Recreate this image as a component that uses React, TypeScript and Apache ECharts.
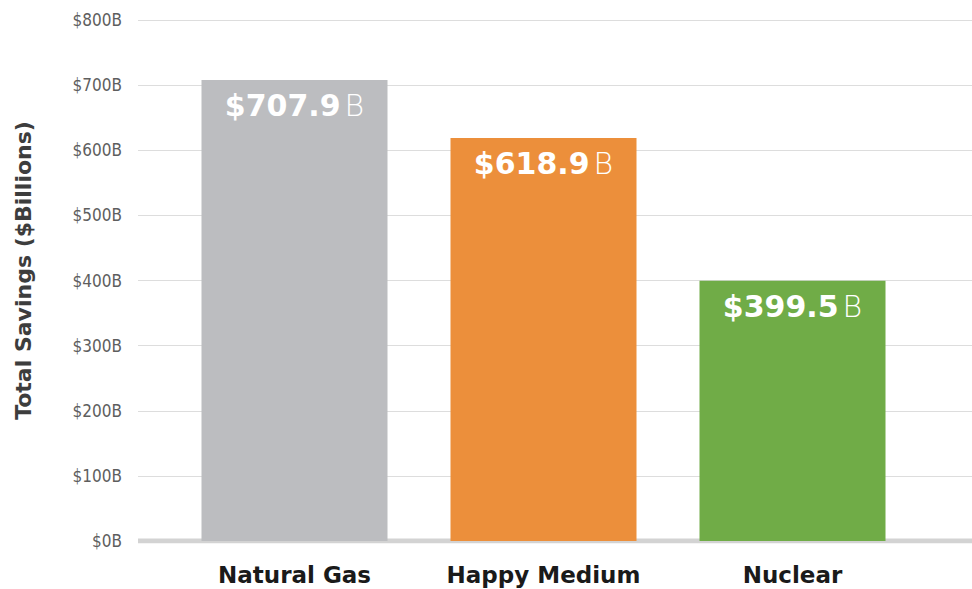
import React, { useEffect, useRef } from "react";
import * as echarts from "echarts";

const categories = ["Natural Gas", "Happy Medium", "Nuclear"];
const savings = [707.9, 618.9, 399.5];
const barColors = ["#bcbdc0", "#ec8f3b", "#70ac47"];
const yTicks = [0, 100, 200, 300, 400, 500, 600, 700, 800];

export default function App() {
  const ref = useRef<HTMLDivElement>(null);
  useEffect(() => {
    if (!ref.current) return;
    const chart = echarts.init(ref.current, undefined, { renderer: "svg" });
    const yMax = yTicks[yTicks.length - 1];
    const option: any = {
      animation: false,
      backgroundColor: "#ffffff",
      grid: [
        { left: 138, right: 0, top: 20, bottom: 48 },
        { left: 170, right: 55, top: 20, bottom: 48 },
      ],
      xAxis: [
        { type: "value", gridIndex: 0, show: false, min: 0, max: 1 },
        {
          type: "category",
          gridIndex: 1,
          data: categories,
          axisLine: { show: false },
          axisTick: { show: false },
          axisLabel: {
            interval: 0,
            margin: 22,
            color: "#1a1a1a",
            fontSize: 23,
            fontWeight: "bold",
            fontFamily: "'DejaVu Sans', sans-serif",
          },
        },
      ],
      yAxis: [
        {
          type: "value",
          gridIndex: 0,
          min: 0,
          max: yMax,
          interval: 100,
          name: "Total Savings ($Billions)",
          nameLocation: "middle",
          nameGap: 104,
          nameTextStyle: {
            color: "#3d3d3d",
            fontSize: 22,
            fontWeight: "bold",
            fontFamily: "'DejaVu Sans', sans-serif",
            padding: [0, 0, 0, 20],
          },
          axisLine: { show: false },
          axisTick: { show: false },
          axisLabel: {
            margin: 16,
            color: "#5e5e5e",
            fontSize: 17,
            fontWeight: "normal",
            fontFamily: "'DejaVu Sans Condensed', 'Liberation Sans Narrow', sans-serif",
            formatter: (v: number) => "$" + v + "B",
          },
          splitLine: { lineStyle: { color: "#dddddd", width: 1 } },
        },
        { type: "value", gridIndex: 1, min: 0, max: yMax, show: false, splitLine: { show: false } },
      ],
      series: [
        {
          type: "line",
          xAxisIndex: 0,
          yAxisIndex: 0,
          data: [[0, 0], [1, 0]],
          symbol: "none",
          lineStyle: { color: "#d3d3d3", width: 5 },
          silent: true,
          z: 1,
        },
        {
          type: "bar",
          xAxisIndex: 1,
          yAxisIndex: 1,
          barWidth: 186,
          z: 3,
          data: savings.map((v, i) => ({ value: v, itemStyle: { color: barColors[i] } })),
          label: {
            show: true,
            position: "insideTop",
            distance: 11,
            formatter: (p: any) => "{a|$" + p.value.toFixed(1) + "}{b|B}",
            rich: {
              a: {
                color: "#ffffff",
                fontSize: 30,
                fontWeight: "bold",
                fontFamily: "'DejaVu Sans', sans-serif",
              },
              b: {
                color: "#ffffff",
                fontSize: 30,
                fontWeight: 200,
                fontFamily: "'DejaVu Sans', sans-serif",
                padding: [0, 0, 0, 4],
              },
            },
          },
        },
      ],
    };
    chart.setOption(option);
    return () => chart.dispose();
  }, []);
  return (
    <div
      ref={ref}
      style={{ position: "absolute", left: 0, top: 0, width: 972, height: 589 }}
    />
  );
}
